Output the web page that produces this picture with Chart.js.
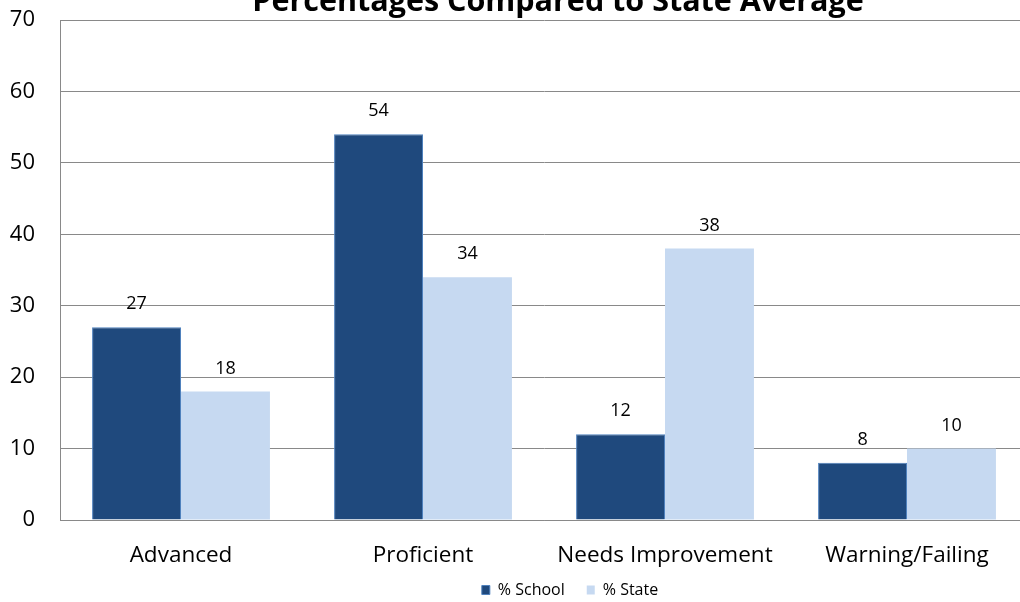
<!DOCTYPE html>
<html>
<head>
<meta charset="utf-8">
<script src="https://cdn.jsdelivr.net/npm/chart.js@4.4.1/dist/chart.umd.min.js"></script>
<style>
  html, body { margin: 0; padding: 0; background: #fff; overflow: hidden; }
  /* the original chart is wider than the picture and cut on the right */
  #wrap { position: absolute; left: 0; top: 0; width: 1140px; height: 602px; }
</style>
</head>
<body>
<div id="wrap"><canvas id="graph"></canvas></div>
<script>
var categories = ["Advanced", "Proficient", "Needs Improvement", "Warning/Failing"];
var school_values = [27, 54, 12, 8];
var state_values = [18, 34, 38, 10];
var y_ticks = [0, 10, 20, 30, 40, 50, 60, 70];
var chart_title = "Percentages Compared to State Average";

var fontName = "'Open Sans', sans-serif";

// value above each bar + the title (cut off at the top like the original)
var valueLabels = {
    id : "valueLabels",
    beforeInit : function(chart) {
        var fit = chart.legend.fit;
        chart.legend.fit = function() {
            fit.bind(chart.legend)();
            this.height = 30;
        };
    },
    afterLayout : function(chart) {
        // legend items start higher than the box (box keeps its bottom)
        chart.legend.top -= 12;
    },
    afterDatasetsDraw : function(chart) {
        var ctx = chart.ctx;
        ctx.save();
        ctx.font = "18px " + fontName;
        ctx.fillStyle = "#000";
        ctx.textAlign = "center";
        ctx.textBaseline = "middle";
        chart.data.datasets.forEach(function(ds, i) {
            chart.getDatasetMeta(i).data.forEach(function(bar, j) {
                ctx.fillText(ds.data[j], bar.x, bar.y - 23);
            });
        });

        ctx.font = "bold 30.5px " + fontName;
        ctx.textBaseline = "alphabetic";
        ctx.fillText(chart_title, 558, 11);
        ctx.restore();
    }
};

var ctx = document.getElementById("graph").getContext("2d");

var data = {
    labels : categories,
    datasets : [
        {
            label : "% School",
            backgroundColor : "#1F497D",
            borderColor : "#4F81BD",
            borderWidth : 1,
            data : school_values
        },
        {
            label : "% State",
            backgroundColor : "#C6D9F1",
            borderWidth : 0,
            data : state_values
        }
    ]
};

var options = {
    responsive : true,
    maintainAspectRatio : false,
    animation : false,
    categoryPercentage : 0.735,
    barPercentage : 1.0,
    layout : { padding : { left : 0, right : 0, top : 20, bottom : 0 } },
    plugins : {
        title : { display : false },
        legend : {
            position : "bottom",
            labels : {
                color : "#000",
                font : { family : fontName, size : 16 },
                boxWidth : 8,
                boxHeight : 9,
                padding : 22
            }
        },
        tooltip : { enabled : false }
    },
    scales : {
        x : {
            afterFit : function(axis) { axis.height = 52; },
            grid : { display : false, drawTicks : false },
            border : { color : "#898989", width : 1 },
            ticks : { color : "#000", font : { family : fontName, size : 22.5 }, padding : 22 }
        },
        y : {
            min : 0,
            max : 70,
            afterBuildTicks : function(axis) {
                axis.ticks = y_ticks.map(function(v) { return { value : v }; });
            },
            afterFit : function(axis) {
                axis.width = 60;
                axis.paddingTop = 0;
                axis.paddingBottom = 0;
            },
            grid : { color : "#898989", lineWidth : 1, drawTicks : false },
            border : { color : "#898989", width : 1 },
            ticks : { color : "#000", font : { family : fontName, size : 22 }, padding : 25 }
        },
        // empty space on the right: the plot runs past the cut edge
        yRight : {
            position : "right",
            afterFit : function(axis) { axis.width = 112; },
            grid : { display : false, drawTicks : false },
            border : { display : false },
            ticks : { display : false }
        }
    }
};

var config = {
    type : "bar",
    data : data,
    options : options,
    plugins : [valueLabels]
};

var graph = new Chart(ctx, config);
</script>
</body>
</html>
